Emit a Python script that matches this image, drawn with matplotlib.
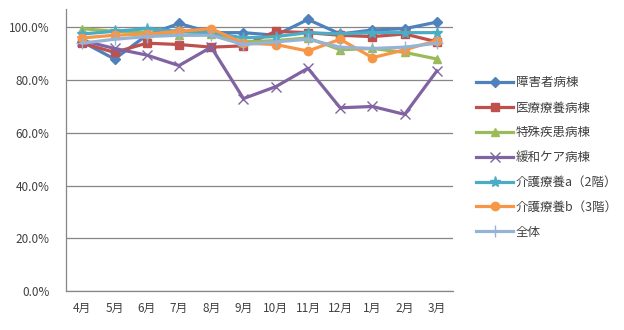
import matplotlib.pyplot as plt
from matplotlib.ticker import FuncFormatter

plt.rcParams['font.family'] = ['Noto Sans CJK JP', 'DejaVu Sans']

months = ['4月', '5月', '6月', '7月', '8月', '9月', '10月', '11月', '12月', '1月', '2月', '3月']

shougai = [94.5, 88.0, 97.0, 101.5, 98.0, 98.0, 97.0, 103.0, 97.5, 99.0, 99.5, 102.0]
iryou = [94.0, 90.5, 94.0, 93.5, 92.5, 93.0, 98.5, 98.0, 97.0, 96.5, 97.5, 94.5]
tokushu = [99.5, 98.5, 98.0, 97.0, 97.5, 94.5, 95.0, 96.0, 91.5, 92.0, 90.5, 88.0]
kanwa = [95.0, 92.0, 89.5, 85.5, 92.5, 73.0, 77.5, 84.5, 69.5, 70.0, 67.0, 83.5]
kaigo_a = [97.5, 98.5, 99.5, 98.5, 98.0, 96.0, 96.5, 98.0, 97.5, 98.0, 98.0, 98.0]
kaigo_b = [96.0, 97.0, 97.5, 98.5, 99.5, 94.0, 93.5, 91.0, 95.5, 88.5, 91.5, 95.0]
zentai = [94.0, 95.5, 96.5, 97.0, 97.0, 93.5, 94.5, 95.5, 92.5, 92.0, 92.5, 94.0]

series = [
    ('障害者病棟', shougai, '#4F81BD', 'D', 5),
    ('医療療養病棟', iryou, '#C0504D', 's', 6),
    ('特殊疾患病棟', tokushu, '#9BBB59', '^', 6),
    ('緩和ケア病棟', kanwa, '#8064A2', 'x', 7),
    ('介護療養a（2階）', kaigo_a, '#4BACC6', '*', 8),
    ('介護療養b（3階）', kaigo_b, '#F79646', 'o', 6),
    ('全体', zentai, '#95B3D7', '+', 9),
]

fig = plt.figure(figsize=(6.24, 3.30), dpi=100)
ax = fig.add_axes([0.106, 0.118, 0.620, 0.855])

x = range(len(months))
for name, vals, col, mk, ms in series:
    ax.plot(x, [v / 100 for v in vals], color=col, lw=2.3, marker=mk,
            markersize=ms, markeredgewidth=1.0, label=name)

ax.set_xlim(-0.5, len(months) - 0.5)
ax.set_ylim(0, 1.07)
ax.set_yticks([0, 0.2, 0.4, 0.6, 0.8, 1.0])
ax.yaxis.set_major_formatter(FuncFormatter(lambda v, p: f'{v * 100:.1f}%'))
ax.set_xticks(list(x))
ax.set_xticklabels(months)
ax.tick_params(length=0, labelsize=8.5, colors='#404040', pad=8)
ax.tick_params(axis='y', pad=12)

ax.grid(axis='y', color='#868686', lw=0.9)
ax.set_axisbelow(True)
for s in ['top', 'right']:
    ax.spines[s].set_visible(False)
for s in ['left', 'bottom']:
    ax.spines[s].set_color('#868686')
    ax.spines[s].set_linewidth(0.9)

ax.legend(loc='center left', bbox_to_anchor=(1.03, 0.473), frameon=False,
          fontsize=9, labelspacing=0.95, handlelength=3.0, handletextpad=0.2,
          labelcolor='#404040')

fig.savefig('out.png', dpi=100)
